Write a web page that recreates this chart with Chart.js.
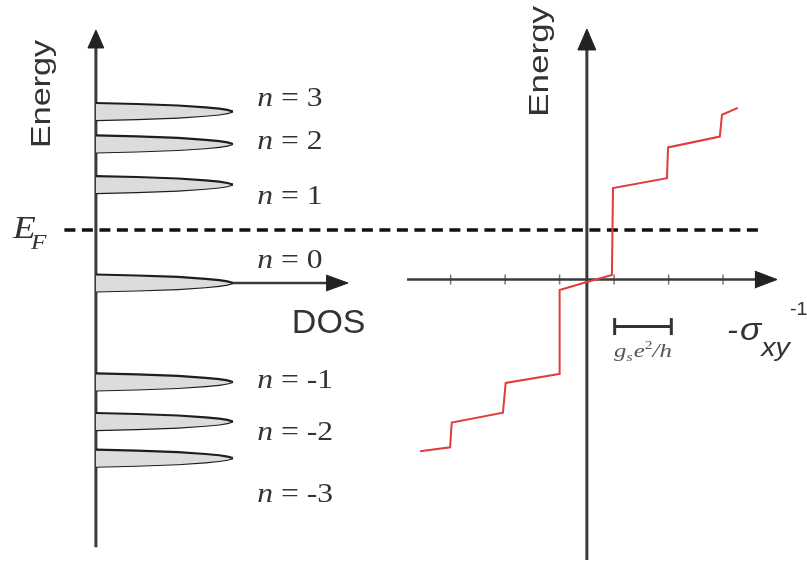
<!DOCTYPE html>
<html><head><meta charset="utf-8">
<script src="https://cdn.jsdelivr.net/npm/chart.js@4.4.0/dist/chart.umd.min.js"></script>
<style>html,body{margin:0;padding:0;background:#fff;}#wrap{width:807px;height:566px;}</style>
</head><body><div id="wrap"><canvas id="c" width="807" height="566"></canvas></div>
<script>
// ---- data ----
const levelN = [3, 2, 1, 0, -1, -2, -3];
const levelE = [1.733, 1.405, 0.995, 0, -1.0, -1.40, -1.77];
const peakDos = [0, 0.3, 0.6, 0.8, 0.9, 0.96, 1.0];
const peakHalf = [0.086, 0.076, 0.061, 0.042, 0.029, 0.016, 0];
const fermiE = 0.536;
const hallX = [-3.06, -2.51, -2.48, -1.54, -1.49, -0.51, -0.50, 0, 0.46, 0.48, 1.47, 1.49, 2.44, 2.48, 2.77];
const hallE = [-1.70, -1.66, -1.41, -1.31, -1.01, -0.92, -0.07, 0.01, 0.08, 0.96, 1.06, 1.37, 1.48, 1.70, 1.77];
const hallTicks = [-2.5, -1.5, -0.5, 0.5, 1.5, 2.5];
const quantumBar = [0.51, 1.55];

// ---- layout (data units of the hidden scales) ----
const L = {
  leftAxisE: [-2.67, 2.40], dosAxisX: [0, 1.70],
  rightAxisE: [-2.80, 2.38], sigmaAxisX: [-3.30, 3.10], sigmaAxisE: 0.035,
  fermiX: [-0.23, 4.86], barE: -0.44, labelX: 1.178,
  labelBase: [1.789, 1.354, 0.798, 0.152, -1.061, -1.587, -2.213]
};
const arrows = [
  {axis: 'xd', dir: 'up', at: 0, base: 2.375, tip: 2.557, half: 0.058},
  {axis: 'xd', dir: 'right', at: 0, base: 1.68, tip: 1.84, half: 0.081},
  {axis: 'xs', dir: 'up', at: 0, base: 2.355, tip: 2.567, half: 0.165},
  {axis: 'xs', dir: 'right', at: 0.035, base: 3.08, tip: 3.49, half: 0.086}
];

const AX = '#3a3a3a';
const datasets = [];
function ln(axis, pts, o) {
  datasets.push(Object.assign({xAxisID: axis, yAxisID: 'y', data: pts, showLine: true,
    pointRadius: 0, fill: false, borderColor: AX, borderWidth: 2.5, tension: 0}, o || {}));
}
// arrowheads
arrows.forEach(a => {
  let up, lo;
  if (a.dir === 'up') {
    up = [{x: a.at - a.half, y: a.base}, {x: a.at, y: a.tip}, {x: a.at + a.half, y: a.base}];
    lo = [{x: a.at - a.half, y: a.base}, {x: a.at + a.half, y: a.base}];
  } else {
    up = [{x: a.base, y: a.at + a.half}, {x: a.tip, y: a.at}];
    lo = [{x: a.base, y: a.at - a.half}, {x: a.tip, y: a.at}];
  }
  ln(a.axis, up, {fill: '+1', backgroundColor: '#222', borderColor: '#222', borderWidth: 1});
  ln(a.axis, lo, {borderColor: '#222', borderWidth: 1});
});
// red Hall staircase
ln('xs', hallX.map((x, i) => ({x, y: hallE[i]})), {borderColor: '#e23b3b', borderWidth: 2});
// Fermi level
ln('xd', [{x: L.fermiX[0], y: fermiE}, {x: L.fermiX[1], y: fermiE}], {borderColor: '#111', borderWidth: 3.5, borderDash: [11, 6.5]});
// Landau peaks
levelE.forEach(E => {
  ln('xd', peakDos.map((d, j) => ({x: d, y: E + peakHalf[j]})), {fill: '+1', backgroundColor: '#dcdcdc', borderColor: '#1e1e1e', borderWidth: 2.2});
  ln('xd', peakDos.map((d, j) => ({x: d, y: E - peakHalf[j]})), {borderColor: '#1e1e1e', borderWidth: 2.2});
});
// axes
ln('xd', [{x: 0, y: L.leftAxisE[0]}, {x: 0, y: L.leftAxisE[1]}], {borderWidth: 3});
ln('xd', [{x: L.dosAxisX[0], y: 0}, {x: L.dosAxisX[1], y: 0}], {borderWidth: 2.5});
ln('xs', [{x: 0, y: L.rightAxisE[0]}, {x: 0, y: L.rightAxisE[1]}], {borderWidth: 3});
ln('xs', [{x: L.sigmaAxisX[0], y: L.sigmaAxisE}, {x: L.sigmaAxisX[1], y: L.sigmaAxisE}], {borderWidth: 2.5});
// ticks
ln('xs', hallTicks.map(x => ({x, y: L.sigmaAxisE})), {showLine: false, pointStyle: 'line', rotation: 90,
  pointRadius: 5, pointBorderWidth: 1.5, pointBorderColor: '#777', borderColor: '#777'});
// scale bar
ln('xs', quantumBar.map(x => ({x, y: L.barE})), {borderColor: '#333', borderWidth: 3, pointStyle: 'line', rotation: 90,
  pointRadius: 8.5, pointBorderWidth: 3, pointBorderColor: '#333'});

// ---- text ----
const SERIF = '"Liberation Serif"', SANS = '"Liberation Sans"';
const texts = [
  {axis: 'xd', x: -0.39, y: 1.91, rot: true, sx: 1.22, runs: [{t: 'Energy', f: '28px ' + SANS}]},
  {axis: 'xs', x: -0.85, y: 2.24, rot: true, sx: 1.25, runs: [{t: 'Energy', f: '28px ' + SANS}]},
  {axis: 'xd', x: 1.43, y: -0.505, sx: 1, runs: [{t: 'DOS', f: '34px ' + SANS}]},
  {axis: 'xd', x: -0.605, y: 0.455, sx: 1.2, runs: [{t: 'E', f: 'italic 31px ' + SERIF}, {t: 'F', f: 'italic 21px ' + SERIF, dy: 11, dx: -4}]},
  {axis: 'xs', x: 0.50, y: -0.75, sx: 1.3, color: '#555', runs: [
    {t: 'g', f: 'italic 19px ' + SERIF}, {t: 's', f: 'italic 12px ' + SERIF, dy: 4},
    {t: 'e', f: 'italic 19px ' + SERIF, dx: 1}, {t: '2', f: '12px ' + SERIF, dy: -8},
    {t: '/h', f: 'italic 19px ' + SERIF}]},
  {axis: 'xs', x: 2.57, y: -0.576, sx: 1.1, runs: [
    {t: '-', f: 'italic 30px ' + SANS}, {t: 'σ', f: 'italic 32px ' + SANS, dx: 2},
    {t: 'xy', f: 'italic 26px ' + SANS, dy: 16}, {t: '-1', f: '18px ' + SANS, dy: -25}]}
];
levelN.forEach((n, i) => texts.push({axis: 'xd', x: L.labelX, y: L.labelBase[i], sx: 1.13,
  runs: [{t: 'n', f: 'italic 28px ' + SERIF}, {t: ' = ' + n, f: '28px ' + SERIF}]}));

const textPlugin = {
  id: 'texts',
  afterDraw(chart) {
    const ctx = chart.ctx;
    texts.forEach(tx => {
      const px = chart.scales[tx.axis].getPixelForValue(tx.x);
      const py = chart.scales.y.getPixelForValue(tx.y);
      ctx.save();
      ctx.fillStyle = tx.color || '#333';
      ctx.translate(px, py);
      if (tx.rot) {
        ctx.rotate(-Math.PI / 2);
        ctx.scale(tx.sx, 1);
        ctx.textAlign = 'center'; ctx.textBaseline = 'middle';
        ctx.font = tx.runs[0].f;
        ctx.fillText(tx.runs[0].t, 0, 0);
      } else {
        ctx.scale(tx.sx, 1);
        ctx.textAlign = 'left'; ctx.textBaseline = 'alphabetic';
        let cx = 0;
        tx.runs.forEach(r => {
          ctx.font = r.f;
          cx += (r.dx || 0);
          ctx.fillText(r.t, cx, r.dy || 0);
          cx += ctx.measureText(r.t).width;
        });
      }
      ctx.restore();
    });
  }
};

new Chart(document.getElementById('c'), {
  type: 'scatter',
  data: {datasets},
  options: {
    responsive: false, animation: false, devicePixelRatio: 1,
    layout: {padding: 0, autoPadding: false},
    plugins: {legend: {display: false}, tooltip: {enabled: false}},
    scales: {
      xd: {type: 'linear', axis: 'x', min: -0.7, max: 5.19, display: false},
      xs: {type: 'linear', axis: 'x', min: -10.77, max: 4.04, display: false},
      y: {type: 'linear', min: -2.86, max: 2.86, display: false}
    }
  },
  plugins: [textPlugin]
});
</script></body></html>
